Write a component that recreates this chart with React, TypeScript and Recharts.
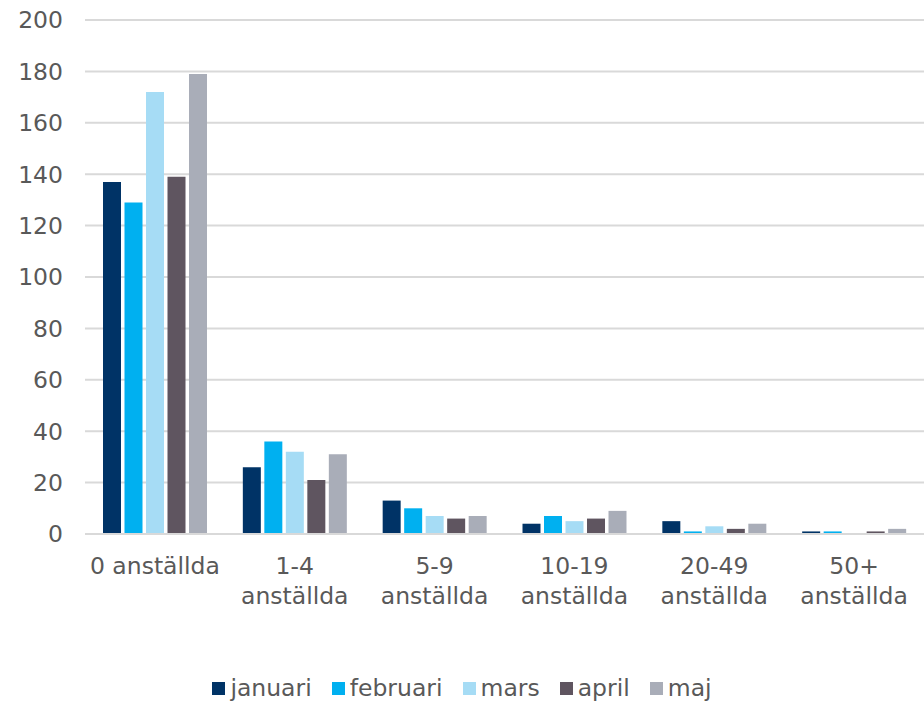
import { BarChart, Bar, XAxis, YAxis, CartesianGrid, Legend } from "recharts";

const categories = ["0 anställda", "1-4\nanställda", "5-9\nanställda", "10-19\nanställda", "20-49\nanställda", "50+\nanställda"];
const januari = [137, 26, 13, 4, 5, 1];
const februari = [129, 36, 10, 7, 1, 1];
const mars = [172, 32, 7, 5, 3, 0];
const april = [139, 21, 6, 6, 2, 1];
const maj = [179, 31, 7, 9, 4, 2];
const yTicks = [0, 20, 40, 60, 80, 100, 120, 140, 160, 180, 200];

const series = [
  { key: "januari", color: "#003366" },
  { key: "februari", color: "#00b0f0" },
  { key: "mars", color: "#a6dcf5" },
  { key: "april", color: "#5f5560" },
  { key: "maj", color: "#a9adb8" },
];

const data = categories.map((name, i) => ({
  name,
  januari: januari[i],
  februari: februari[i],
  mars: mars[i],
  april: april[i],
  maj: maj[i],
}));

const FONT = "'DejaVu Sans', Verdana, sans-serif";
const TEXT = "#595959";
const FS = 23.5;

function CategoryTick({ x, y, payload }: any) {
  const lines = String(payload.value).split("\n");
  return (
    <text x={x} y={y} textAnchor="middle" fill={TEXT} fontSize={FS} fontFamily={FONT}>
      {lines.map((l, i) => (
        <tspan key={i} x={x} dy={i === 0 ? 32 : 30}>
          {l}
        </tspan>
      ))}
    </text>
  );
}

function LegendBox() {
  return (
    <div style={{ display: "flex", justifyContent: "center", fontFamily: FONT, fontSize: FS, color: TEXT, paddingTop: 4 }}>
      {series.map((s) => (
        <div key={s.key} style={{ display: "flex", alignItems: "center", margin: "0 10px" }}>
          <span style={{ width: 13, height: 13, background: s.color, display: "inline-block", marginRight: 5 }} />
          <span>{s.key}</span>
        </div>
      ))}
    </div>
  );
}

export default function App() {
  return (
    <div style={{ position: "absolute", left: 0, top: 0, background: "#fff" }}>
      <BarChart
        width={924}
        height={704}
        data={data}
        barSize={18}
        barGap={3.5}
        margin={{ top: 20, right: 0, left: 0, bottom: 0 }}
      >
        <CartesianGrid vertical={false} stroke="#d9d9d9" strokeWidth={2} />
        <XAxis
          dataKey="name"
          axisLine={{ stroke: "#d9d9d9", strokeWidth: 2 }}
          tickLine={false}
          interval={0}
          height={136}
          tick={<CategoryTick />}
        />
        <YAxis
          domain={[0, 200]}
          ticks={yTicks}
          axisLine={false}
          tickLine={false}
          tickSize={0}
          tickMargin={22}
          width={85}
          tick={{ fill: TEXT, fontSize: FS, fontFamily: FONT }}
        />
        <Legend verticalAlign="bottom" height={34} content={<LegendBox />} />
        {series.map((s) => (
          <Bar key={s.key} dataKey={s.key} fill={s.color} isAnimationActive={false} />
        ))}
      </BarChart>
    </div>
  );
}
